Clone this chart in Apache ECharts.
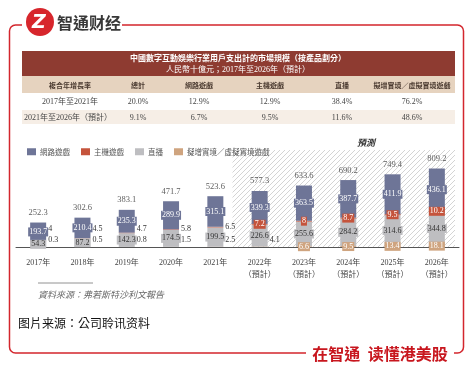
<!DOCTYPE html>
<html>
<head>
<meta charset="utf-8">
<script src="https://cdn.jsdelivr.net/npm/echarts@6/dist/echarts.min.js"></script>
<style>
html,body{margin:0;padding:0;background:#fff;}
#c{width:472px;height:373px;}
</style>
</head>
<body>
<div id="c"></div>
<script>
// ---------- DATA ----------
const categories = ['2017年','2018年','2019年','2020年','2021年','2022年','2023年','2024年','2025年','2026年'];
const forecastFrom = 5; // index of first forecast year
const forecastSuffix = '（預計）';
const onlineGames = [193.7, 210.4, 235.3, 289.9, 315.1, 339.3, 363.5, 387.7, 411.9, 436.1];
const consoleGames = [4.0, 4.5, 4.7, 5.8, 6.5, 7.2, 8.0, 8.7, 9.5, 10.2];
const liveStreaming = [54.3, 87.2, 142.3, 174.5, 199.5, 226.6, 255.6, 284.2, 314.6, 344.8];
const arvrGames = [0.3, 0.5, 0.8, 1.5, 2.5, 4.1, 6.6, 9.5, 13.4, 18.1];
const totals = [252.3, 302.6, 383.1, 471.7, 523.6, 577.3, 633.6, 690.2, 749.4, 809.2];
const seriesNames = ['網路遊戲','主機遊戲','直播','擬增實境／虛擬實境遊戲'];

const tableTitle = '中國數字互動娛樂行業用戶支出計的市場規模（按產品劃分）';
const tableSubtitle = '人民幣十億元；2017年至2026年（預計）';
const tableHeaders = ['複合年增長率','總計','網路遊戲','主機遊戲','直播','擬增實境／虛擬實境遊戲'];
const cagrRow1 = ['2017年至2021年','20.0%','12.9%','12.9%','38.4%','76.2%'];
const cagrRow2 = ['2021年至2026年（預計）','9.1%','6.7%','9.5%','11.6%','48.6%'];

const brandName = '智通财经';
const slogan = '在智通  读懂港美股';
const forecastTag = '預測';
const dataSource = '資料來源：弗若斯特沙利文報告';
const imageSource = '图片来源：公司聆讯资料';

// ---------- STYLE ----------
const C_BLUE = '#6E7597', C_RED = '#C5543C', C_GREY = '#BEBEC1', C_TAN = '#CFA47F';
const RED = '#D3262D';
const NUMF = '"Liberation Serif", "Noto Sans CJK TC", serif';
const CJK = '"Noto Sans CJK TC", sans-serif';
const colX = [70, 138, 199, 270, 342, 412];
const consoleSideY = 229; // pixel row of the side labels of the console series

const chart = echarts.init(document.getElementById('c'), null, {renderer: 'canvas'});

function boxLabel(bg, fg) {
  return {show: true, position: 'inside', color: fg, backgroundColor: bg,
    padding: [1, 1, 0, 1], fontSize: 8, fontFamily: NUMF};
}
function sideLabel(dy) {
  return {show: true, position: 'right', distance: 2, offset: [0, dy], color: '#333',
    fontSize: 8, fontFamily: NUMF, backgroundColor: 'transparent'};
}

const arvrData = arvrGames.map((v, i) => ({value: v,
  label: i <= forecastFrom ? sideLabel(-7) : boxLabel(C_TAN, '#fff')}));
function makeConsoleData(offsets) {
  return consoleGames.map((v, i) => ({value: v,
    label: i < forecastFrom ? sideLabel(offsets[i]) : boxLabel(C_RED, '#fff')}));
}

// hatch pattern
const pc = document.createElement('canvas');
pc.width = 5; pc.height = 5;
const pctx = pc.getContext('2d');
pctx.strokeStyle = '#c9c9c9'; pctx.lineWidth = 0.8;
pctx.beginPath();
pctx.moveTo(0, 5); pctx.lineTo(5, 0);
pctx.moveTo(-1, 1); pctx.lineTo(1, -1);
pctx.moveTo(4, 6); pctx.lineTo(6, 4);
pctx.stroke();

// table graphics
const tbl = [];
const tL = 22, tW = 433;
tbl.push({type: 'rect', shape: {x: tL, y: 51, width: tW, height: 25}, style: {fill: '#8E3B31'}});
tbl.push({type: 'rect', shape: {x: tL, y: 76, width: tW, height: 17}, style: {fill: '#E6D3BF'}});
tbl.push({type: 'rect', shape: {x: tL, y: 110, width: tW, height: 14}, style: {fill: '#F6EEE6'}});
tbl.push({type: 'text', x: 238, y: 58, style: {text: tableTitle, fill: '#fff', font: 'bold 8px ' + CJK, align: 'center', verticalAlign: 'middle'}});
tbl.push({type: 'text', x: 238, y: 70, style: {text: tableSubtitle, fill: '#fff', font: '8px ' + NUMF, align: 'center', verticalAlign: 'middle'}});
tableHeaders.forEach((h, i) => tbl.push({type: 'text', x: colX[i], y: 85,
  style: {text: h, fill: '#4a3a30', font: 'bold 7px ' + CJK, align: 'center', verticalAlign: 'middle'}}));
cagrRow1.forEach((h, i) => tbl.push({type: 'text', x: colX[i], y: 102,
  style: {text: h, fill: '#444', font: '8px ' + NUMF, align: 'center', verticalAlign: 'middle'}}));
cagrRow2.forEach((h, i) => tbl.push({type: 'text', x: colX[i] - (i === 0 ? 2 : 0), y: 118,
  style: {text: h, fill: '#444', font: '8px ' + NUMF, align: 'center', verticalAlign: 'middle'}}));

const staticGraphics = [
  {type: 'rect', z: 0, shape: {x: 9.5, y: 25, width: 454, height: 328, r: 6}, style: {fill: 'transparent', stroke: RED, lineWidth: 1.5}},
  {type: 'rect', z: 1, shape: {x: 22, y: 18, width: 100, height: 14}, style: {fill: '#fff'}},
  {type: 'rect', z: 1, shape: {x: 306, y: 346, width: 148, height: 14}, style: {fill: '#fff'}},
  {type: 'circle', z: 2, shape: {cx: 40, cy: 22, r: 14}, style: {fill: '#D7262C'}},
  {type: 'text', z: 3, x: 39, y: 23, style: {text: 'Z', fill: '#fff', font: 'italic bold 19px "DejaVu Sans", sans-serif', align: 'center', verticalAlign: 'middle'}},
  {type: 'text', z: 3, x: 57, y: 23, style: {text: brandName, fill: '#383838', font: 'bold 16px ' + CJK, align: 'left', verticalAlign: 'middle'}},
  {type: 'text', z: 3, x: 380, y: 354, style: {text: slogan, fill: '#C8161E', font: 'bold 16px ' + CJK, align: 'center', verticalAlign: 'middle'}},
  {type: 'text', z: 3, x: 366, y: 143, style: {text: forecastTag, fill: '#333', font: 'italic bold 9px ' + CJK, align: 'center', verticalAlign: 'middle'}},
  {type: 'line', z: 3, shape: {x1: 38, y1: 283, x2: 93, y2: 283}, style: {stroke: '#777', lineWidth: 0.8}},
  {type: 'text', z: 3, x: 38, y: 295, style: {text: dataSource, fill: '#666', font: 'italic 9px ' + CJK, align: 'left', verticalAlign: 'middle'}},
  {type: 'text', z: 3, x: 18, y: 323, style: {text: imageSource, fill: '#111', font: '12px ' + CJK, align: 'left', verticalAlign: 'middle'}}
].concat(tbl);

const option = {
  backgroundColor: '#fff',
  animation: false,
  grid: {left: 16, right: 13, top: 150, bottom: 126, containLabel: false},
  legend: {
    data: seriesNames, left: 22, top: 143, itemWidth: 9, itemHeight: 7, itemGap: 11,
    icon: 'rect', textStyle: {fontSize: 7.5, color: '#555', fontFamily: CJK, padding: [0, 0, 0, -1]}
  },
  xAxis: {
    type: 'category', data: categories,
    axisLine: {lineStyle: {color: '#555', width: 1}}, axisTick: {show: false},
    axisLabel: {margin: 10, fontSize: 8, color: '#444', fontFamily: NUMF, lineHeight: 12,
      formatter: (v, i) => i >= forecastFrom ? v + '\n' + forecastSuffix : v}
  },
  yAxis: {type: 'value', min: 0, max: 1000, show: false, splitLine: {show: false}},
  series: [
    {name: seriesNames[3], type: 'bar', stack: 's', barWidth: 16, itemStyle: {color: C_TAN}, data: arvrData, z: 3},
    {name: seriesNames[2], type: 'bar', stack: 's', barWidth: 16, itemStyle: {color: C_GREY}, label: boxLabel(C_GREY, '#333'), data: liveStreaming, z: 3},
    {name: seriesNames[1], type: 'bar', stack: 's', barWidth: 16, itemStyle: {color: C_RED}, data: makeConsoleData(consoleGames.map(() => 0)), z: 3},
    {name: seriesNames[0], type: 'bar', stack: 's', barWidth: 16, itemStyle: {color: C_BLUE}, label: boxLabel(C_BLUE, '#fff'), data: onlineGames, z: 3},
    {name: 'total', type: 'scatter', symbolSize: 1, itemStyle: {color: 'rgba(0,0,0,0)'}, data: totals,
      label: {show: true, position: 'top', distance: 5, fontSize: 8.5, color: '#333', fontFamily: NUMF}, z: 4}
  ],
  graphic: {elements: staticGraphics}
};
chart.setOption(option);

// lift the small console side labels to a common row, using the value scale
const consoleOffsets = consoleGames.map((v, i) => {
  const mid = arvrGames[i] + liveStreaming[i] + v / 2;
  const natural = chart.convertToPixel({yAxisIndex: 0}, mid);
  return Math.min(0, consoleSideY - natural);
});

// forecast hatched area, located through the axis scales
const xa = chart.convertToPixel({xAxisIndex: 0}, categories[forecastFrom - 1]);
const xb = chart.convertToPixel({xAxisIndex: 0}, categories[forecastFrom]);
const xe = chart.convertToPixel({xAxisIndex: 0}, categories[categories.length - 1]);
const y0 = chart.convertToPixel({yAxisIndex: 0}, 0);
const band = xb - xa;
const hx = (xa + xb) / 2 - 5;
chart.setOption({
  series: [{}, {}, {data: makeConsoleData(consoleOffsets)}],
  graphic: {elements: staticGraphics.concat([
    {type: 'rect', z: -1, shape: {x: hx, y: 150, width: xe + band / 2 - 4 - hx, height: y0 - 150},
      style: {fill: {image: pc, repeat: 'repeat'}}}
  ])}
});
</script>
</body>
</html>
